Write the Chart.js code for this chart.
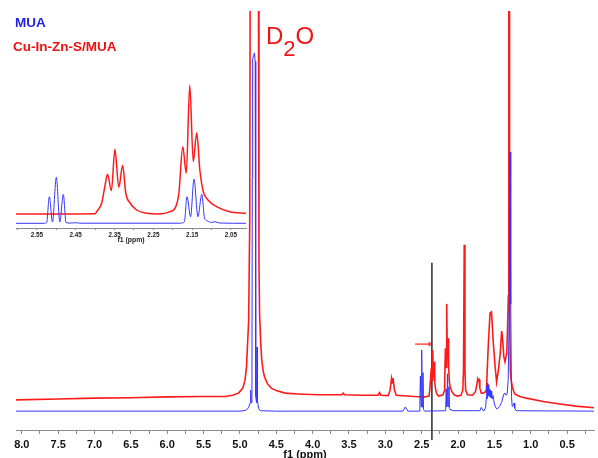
<!DOCTYPE html>
<html>
<head>
<meta charset="utf-8">
<script src="https://cdn.jsdelivr.net/npm/chart.js@4/dist/chart.umd.min.js"></script>
<style>
  html, body { margin: 0; padding: 0; background: #fff; overflow: hidden; width: 598px; height: 458px; }
  #wrap { position: relative; width: 598px; height: 458px; overflow: hidden; font-family: "Liberation Sans", Arial, sans-serif; }
  #mainChart { position: absolute; left: 0; top: 0; }
  #insetChart { position: absolute; left: 0; top: 70px; }
  .lbl { position: absolute; font-weight: bold; font-size: 13.5px; line-height: 13.5px; white-space: nowrap; }
  #d2o { position: absolute; left: 266px; top: 24px; font-size: 24px; line-height: 24px; color: #f01515; white-space: nowrap; }
  #d2o span { position: relative; top: 12px; font-size: 22px; }
</style>
</head>
<body>
<div id="wrap">
  <canvas id="mainChart" width="598" height="462"></canvas>
  <canvas id="insetChart" width="252" height="174"></canvas>
  <div class="lbl" style="left:15px; top:16px; color:#1f1fe6;">MUA</div>
  <div class="lbl" style="left:13px; top:40px; color:#ee1111;">Cu-In-Zn-S/MUA</div>
  <div id="d2o">D<span>2</span>O</div>
</div>
<script>
// MUA spectrum (blue), ppm and intensity
const muaPpm = [8.08, 5.00, 4.92, 4.88, 4.86, 4.852, 4.845, 4.835, 4.83, 4.825, 4.80, 4.79, 4.785, 4.78, 4.772, 4.765, 4.758, 4.745, 4.72,
  4.50, 2.76, 2.725, 2.69, 2.53, 2.525, 2.518, 2.509, 2.500, 2.491, 2.482, 2.475, 2.46,
  2.175, 2.170, 2.163, 2.154, 2.145, 2.135, 2.125, 2.118, 2.10, 2.09, 2.08,
  1.70, 1.68, 1.66, 1.64, 1.62, 1.61, 1.605, 1.60, 1.595, 1.59, 1.585, 1.58, 1.575, 1.57, 1.565, 1.56, 1.555, 1.55, 1.545,
  1.54, 1.535, 1.53, 1.52, 1.51, 1.50, 1.48, 1.46, 1.43, 1.40, 1.37, 1.355, 1.34, 1.325, 1.31, 1.295, 1.285, 1.275, 1.265,
  1.255, 1.24, 1.23, 1.22, 1.20, 0.13];
const muaInt = [4.5, 4.5, 4.7, 5.3, 6.5, 9.5, 6.5, 7.5, 60, 88.5, 90, 88, 40, 8, 6.5, 19.8, 7, 5.2, 4.6,
  4.5, 4.5, 5.5, 4.5, 4.5, 7, 12.9, 5.5, 19.1, 5.5, 13.7, 4.9, 4.5,
  4.6, 4.8, 9.8, 5.6, 13.4, 5.6, 10.3, 5.2, 4.7, 4.9, 4.6,
  4.6, 5.4, 4.7, 4.6, 5.5, 8, 10.5, 7.5, 11.2, 8.5, 10.8, 8.2, 10.3, 8, 9.8, 8, 9.5, 7.8, 9.3,
  7.6, 9.1, 7.5, 8.2, 7.2, 6.2, 5.3, 5.0, 5.6, 6.6, 8.6, 8.8, 8.3, 8.6, 12, 30, 66.3, 30, 8,
  5.6, 5.8, 6.4, 5.2, 4.6, 4.5];

// Cu-In-Zn-S/MUA spectrum (red)
const cizPpm = [8.08, 7.5, 7.0, 6.5, 6.0, 5.5, 5.2, 5.1, 5.02, 4.96, 4.93, 4.91, 4.88, 4.865, 4.855, 4.80, 4.75, 4.738, 4.73,
  4.715, 4.70, 4.68, 4.66, 4.62, 4.57, 4.50, 4.38, 4.2, 3.93, 3.6, 3.58, 3.56, 3.3, 3.10, 3.08, 3.06,
  2.96, 2.935, 2.915, 2.905, 2.895, 2.875, 2.85, 2.6, 2.45, 2.40, 2.39, 2.383, 2.368, 2.358, 2.349, 2.339, 2.329, 2.321,
  2.310, 2.293, 2.267, 2.207, 2.192, 2.184, 2.174, 2.165, 2.156, 2.147, 2.138, 2.130, 2.121, 2.109, 2.087, 2.053, 2.012,
  1.96, 1.935, 1.925, 1.915, 1.905, 1.895, 1.87, 1.80, 1.76, 1.74, 1.73, 1.72, 1.71, 1.70, 1.68, 1.66, 1.63,
  1.61, 1.585, 1.56, 1.54, 1.515, 1.49, 1.47, 1.445, 1.42, 1.40, 1.39, 1.37, 1.355, 1.33, 1.32, 1.308, 1.302, 1.298,
  1.292, 1.28, 1.27, 1.25, 1.22, 1.15, 1.06, 0.83, 0.60, 0.38, 0.13];
const cizInt = [7.2, 7.4, 7.6, 7.7, 7.9, 8.0, 8.0, 8.3, 8.8, 10, 11.9, 15, 26, 50, 150, 1000, 150, 40, 28,
  21, 16.7, 14, 12.6, 11, 10, 9.4, 8.8, 8.6, 8.4, 8.4, 8.8, 8.4, 8.3, 8.3, 8.9, 8.3,
  8.2, 9.5, 12.3, 11.2, 12.4, 9.6, 8.3, 8.0, 7.9, 8.1, 9.3, 11, 14.8, 11.9, 19.1, 12.5, 16.3, 11.5,
  9.8, 8.6, 8.1, 8.4, 9.2, 11.5, 19.5, 14.9, 30.1, 16.9, 21.9, 15.5, 11.8, 10.3, 9.2, 8.4, 8.1,
  8.3, 9.5, 14, 44.2, 14, 9.5, 8.4, 8.3, 9.2, 11, 12.2, 11.8, 12, 10, 8.8, 8.8, 9.0,
  9.5, 19.9, 27.9, 28.2, 20.8, 15.1, 11.5, 14.3, 18.3, 23.6, 22.3, 17.5, 16.3, 18.3, 23.9, 32, 140, 140,
  30, 14, 12, 10, 8.6, 8.0, 7.6, 6.8, 6.2, 5.7, 5.3];

// marker line and arrow at the 2.36 ppm peak
const markerPpm = [2.36, 2.36];
const markerInt = [39.9, -2.4];
const arrowPpm = [2.59, 2.385];
const arrowInt = [20.5, 20.5];

// inset: 2.0 - 2.6 ppm region
const insetMuaPpm = [2.604, 2.53, 2.525, 2.518, 2.510, 2.500, 2.491, 2.482, 2.475, 2.465, 2.45, 2.44,
  2.18, 2.170, 2.163, 2.154, 2.145, 2.135, 2.125, 2.118, 2.11, 2.10, 2.091, 2.08, 2.011];
const insetMuaInt = [4.7, 4.7, 5.5, 31.3, 6, 50.7, 6, 33.7, 5.5, 4.9, 5.3, 4.8,
  4.8, 6, 31.3, 11.3, 49, 11.3, 33.7, 10, 7, 5.5, 6.3, 5, 4.7];
const insetCizPpm = [2.604, 2.50, 2.40, 2.396, 2.383, 2.375, 2.368, 2.358, 2.349, 2.339, 2.329, 2.321, 2.310, 2.293, 2.267,
  2.24, 2.207, 2.192, 2.184, 2.174, 2.165, 2.156, 2.147, 2.138, 2.130, 2.121, 2.109, 2.087, 2.053, 2.011];
const insetCizInt = [14, 14, 14.2, 16.3, 25, 41.3, 53.7, 37.3, 78.7, 40.7, 62.7, 35, 25, 18, 14.7,
  14, 16.3, 21.3, 35, 81.3, 54.7, 143, 66.3, 95.3, 58, 36.3, 28, 21.3, 16.3, 14.7];

function toPoints(xs, ys) {
    return xs.map((x, i) => ({ x: x, y: ys[i] }));
}

function halfStepLabel(v) {
    return Math.abs(v * 2 - Math.round(v * 2)) < 1e-6 ? v.toFixed(1) : '';
}

// keep the plot area edge-to-edge, no room reserved for end labels
function noSidePadding(scale) {
    scale.paddingLeft = 0;
    scale.paddingRight = 0;
}

const mainCtx = document.getElementById('mainChart').getContext('2d');
const insetCtx = document.getElementById('insetChart').getContext('2d');

const mainChart = new Chart(mainCtx, {
    type: 'line',
    data: {
        datasets: [
            {
                label: 'MUA',
                data: toPoints(muaPpm, muaInt),
                borderColor: '#3535ff',
                borderWidth: 1,
                pointRadius: 0,
                tension: 0
            },
            {
                label: 'Cu-In-Zn-S/MUA',
                data: toPoints(cizPpm, cizInt),
                borderColor: '#ff1a1a',
                borderWidth: 1.6,
                pointRadius: 0,
                tension: 0
            },
            {
                label: 'marker',
                data: toPoints(markerPpm, markerInt),
                borderColor: '#444',
                borderWidth: 1,
                pointRadius: 0,
                clip: { left: 0, top: 0, right: 0, bottom: 14 }
            },
            {
                label: 'arrow',
                data: toPoints(arrowPpm, arrowInt),
                borderColor: '#ff4a4a',
                backgroundColor: '#ff4a4a',
                borderWidth: 1.5,
                pointStyle: 'triangle',
                pointRotation: 90,
                pointRadius: [0, 3],
                pointBorderWidth: 0
            }
        ]
    },
    options: {
        responsive: false,
        animation: false,
        layout: { padding: { left: 16, right: 0, top: 11, bottom: 0 } },
        plugins: { legend: { display: false }, tooltip: { enabled: false } },
        scales: {
            x: {
                type: 'linear',
                reverse: true,
                min: 0.13,
                max: 8.08,
                afterFit: function(scale) { scale.height = 32; noSidePadding(scale); },
                border: { display: true, color: '#8a8a8a', width: 1 },
                grid: { drawOnChartArea: false, drawTicks: true, tickLength: 4, color: '#8a8a8a' },
                ticks: {
                    stepSize: 0.25,
                    includeBounds: false,
                    autoSkip: false,
                    maxRotation: 0,
                    padding: 4,
                    color: '#111',
                    font: { family: 'Liberation Sans', weight: 'bold', size: 11 },
                    callback: halfStepLabel
                },
                title: {
                    display: true,
                    text: 'f1 (ppm)',
                    color: '#111',
                    padding: 0,
                    font: { family: 'Liberation Sans', weight: 'bold', size: 11 }
                }
            },
            y: {
                display: false,
                min: 0,
                max: 100
            }
        }
    }
});

const insetChart = new Chart(insetCtx, {
    type: 'line',
    data: {
        datasets: [
            {
                label: 'MUA',
                data: toPoints(insetMuaPpm, insetMuaInt),
                borderColor: '#3535ff',
                borderWidth: 1,
                pointRadius: 0,
                cubicInterpolationMode: 'monotone'
            },
            {
                label: 'Cu-In-Zn-S/MUA',
                data: toPoints(insetCizPpm, insetCizInt),
                borderColor: '#ff1a1a',
                borderWidth: 1.5,
                pointRadius: 0,
                cubicInterpolationMode: 'monotone'
            }
        ]
    },
    options: {
        responsive: false,
        animation: false,
        layout: { padding: { left: 16, right: 6, top: 8, bottom: 0 } },
        plugins: { legend: { display: false }, tooltip: { enabled: false } },
        scales: {
            x: {
                type: 'linear',
                reverse: true,
                min: 2.011,
                max: 2.604,
                afterFit: function(scale) { scale.height = 16; noSidePadding(scale); },
                border: { display: true, color: '#8a8a8a', width: 1 },
                grid: { drawOnChartArea: false, drawTicks: true, tickLength: 2, color: '#8a8a8a' },
                ticks: {
                    stepSize: 0.05,
                    includeBounds: false,
                    autoSkip: false,
                    maxRotation: 0,
                    padding: 1,
                    color: '#222',
                    font: { family: 'Liberation Sans', weight: 'bold', size: 6.3 },
                    callback: function(v) {
                        const k = Math.round(v * 100);
                        return (Math.abs(v * 100 - k) < 1e-6 && k % 10 === 5) ? v.toFixed(2) : '';
                    }
                },
                title: {
                    display: true,
                    text: 'f1 (ppm)',
                    color: '#222',
                    padding: 0,
                    font: { family: 'Liberation Sans', weight: 'bold', size: 6.9 }
                }
            },
            y: {
                display: false,
                min: 0,
                max: 150
            }
        }
    }
});
</script>
</body>
</html>
